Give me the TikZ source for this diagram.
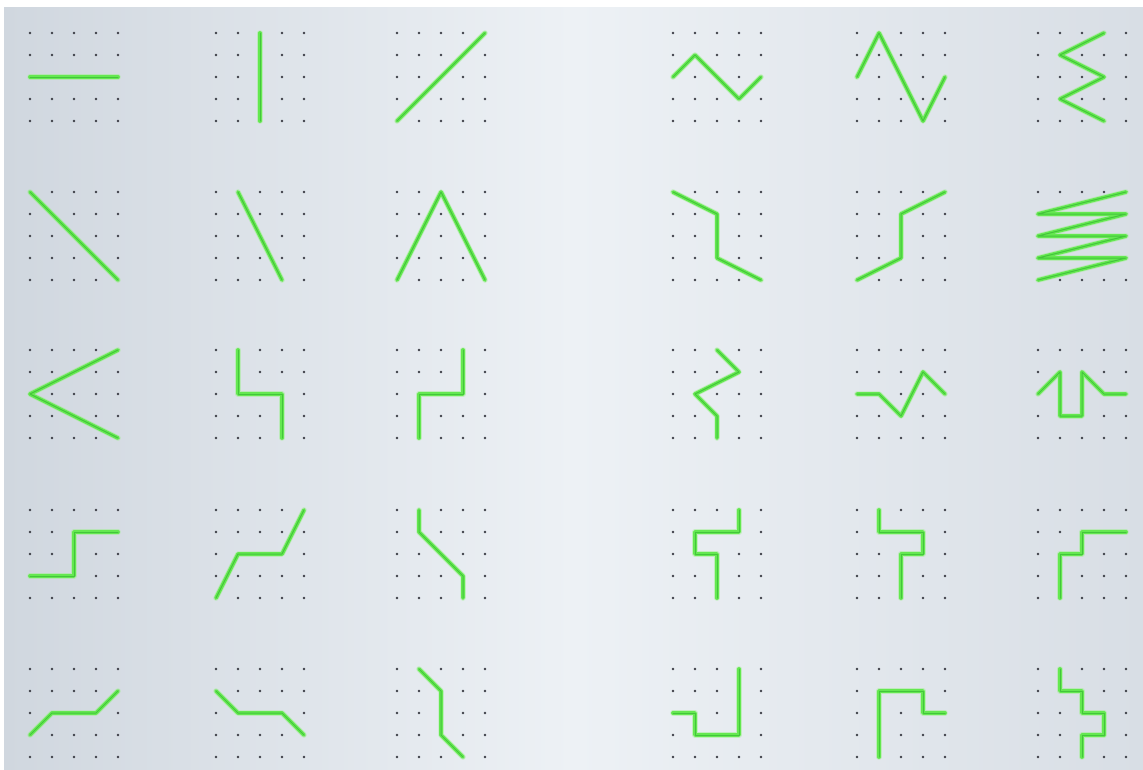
\documentclass[tikz,border=0pt]{standalone}
\usetikzlibrary{calc}
\definecolor{paperL}{RGB}{208,215,223}
\definecolor{paperM}{RGB}{237,241,245}
\definecolor{paperR}{RGB}{216,222,229}
\definecolor{dotc}{RGB}{60,62,70}
\definecolor{strhalo}{RGB}{150,240,130}
\definecolor{strglow}{RGB}{100,232,80}
\definecolor{strcore}{RGB}{45,175,45}
\tikzset{
  strhalo/.style={draw=strhalo, line width=5.5pt, line join=round, line cap=round, opacity=0.45},
  strglow/.style={draw=strglow, line width=3.8pt, line join=round, line cap=round},
  strcore/.style={draw=strcore, line width=1pt, line join=round, line cap=round, opacity=0.6},
  gdot/.style={fill=dotc}
}
\newcommand\dotpanel[3]{%
  \begin{scope}[shift={(#1,#2)}, x=22pt, y=-22pt]
    \foreach \i in {0,...,4}{\foreach \j in {0,...,4}{\fill[gdot] (\i,\j) circle (1.3pt);}}
    \draw[strhalo] plot coordinates {#3};
    \draw[strglow] plot coordinates {#3};
    \draw[strcore] plot coordinates {#3};
  \end{scope}}
\begin{document}
\begin{tikzpicture}[x=1pt,y=-1pt]
\useasboundingbox (0,0) rectangle (1143,769);
\fill[white] (0,0) rectangle (1143,769);
\shade[left color=paperL, right color=paperR, middle color=paperM] (4,7) rectangle (1143,769);
% row 1
\dotpanel{30}{33}{(0,2) (4,2)}
\dotpanel{216}{33}{(2,0) (2,4)}
\dotpanel{397}{33}{(0,4) (4,0)}
\dotpanel{673}{33}{(0,2) (1,1) (3,3) (4,2)}
\dotpanel{857}{33}{(0,2) (1,0) (3,4) (4,2)}
\dotpanel{1038}{33}{(3,0) (1,1) (3,2) (1,3) (3,4)}
% row 2
\dotpanel{30}{192}{(0,0) (4,4)}
\dotpanel{216}{192}{(1,0) (3,4)}
\dotpanel{397}{192}{(0,4) (2,0) (4,4)}
\dotpanel{673}{192}{(0,0) (2,1) (2,3) (4,4)}
\dotpanel{857}{192}{(0,4) (2,3) (2,1) (4,0)}
\dotpanel{1038}{192}{(4,0) (0,1) (4,1) (0,2) (4,2) (0,3) (4,3) (0,4)}
% row 3
\dotpanel{30}{350}{(4,0) (0,2) (4,4)}
\dotpanel{216}{350}{(1,0) (1,2) (3,2) (3,4)}
\dotpanel{397}{350}{(3,0) (3,2) (1,2) (1,4)}
\dotpanel{673}{350}{(2,0) (3,1) (1,2) (2,3) (2,4)}
\dotpanel{857}{350}{(0,2) (1,2) (2,3) (3,1) (4,2)}
\dotpanel{1038}{350}{(0,2) (1,1) (1,3) (2,3) (2,1) (3,2) (4,2)}
% row 4
\dotpanel{30}{510}{(0,3) (2,3) (2,1) (4,1)}
\dotpanel{216}{510}{(0,4) (1,2) (3,2) (4,0)}
\dotpanel{397}{510}{(1,0) (1,1) (3,3) (3,4)}
\dotpanel{673}{510}{(3,0) (3,1) (1,1) (1,2) (2,2) (2,4)}
\dotpanel{857}{510}{(1,0) (1,1) (3,1) (3,2) (2,2) (2,4)}
\dotpanel{1038}{510}{(1,4) (1,2) (2,2) (2,1) (4,1)}
% row 5
\dotpanel{30}{669}{(0,3) (1,2) (3,2) (4,1)}
\dotpanel{216}{669}{(0,1) (1,2) (3,2) (4,3)}
\dotpanel{397}{669}{(1,0) (2,1) (2,3) (3,4)}
\dotpanel{673}{669}{(0,2) (1,2) (1,3) (3,3) (3,0)}
\dotpanel{857}{669}{(1,4) (1,1) (3,1) (3,2) (4,2)}
\dotpanel{1038}{669}{(1,0) (1,1) (2,1) (2,2) (3,2) (3,3) (2,3) (2,4)}
\end{tikzpicture}
\end{document}
